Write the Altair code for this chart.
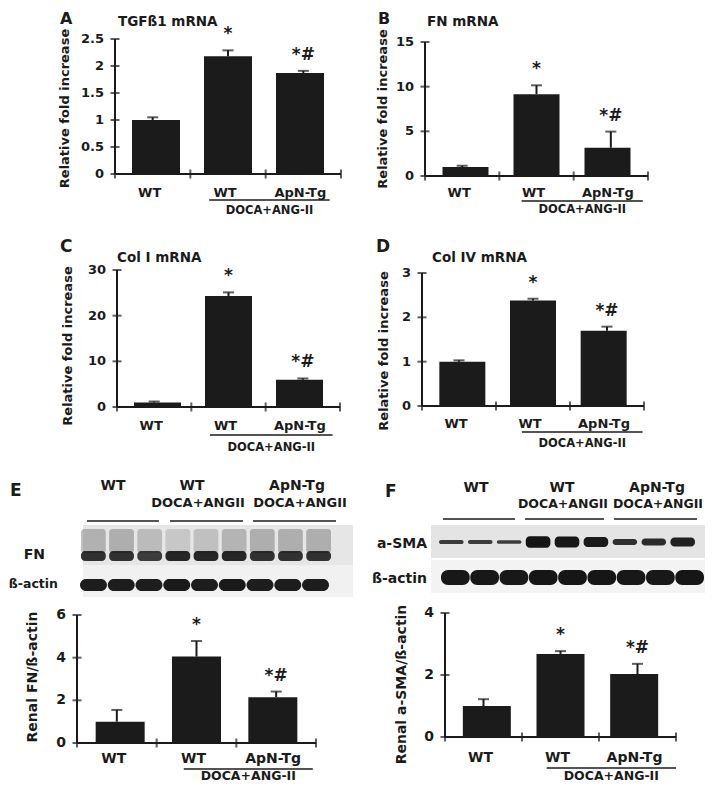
import altair as alt
import pandas as pd

FONT = "DejaVu Sans"
INK = "#1b1b1b"
OFF = 8  # page margin


def P(v):
    return v - OFF


# ---------------- data ----------------
groups = ["WT", "WT", "ApN-Tg"]
sig_marks = ["", "*", "*#"]

tgf_mean = [1.0, 2.18, 1.87]
tgf_err = [0.05, 0.11, 0.04]
fn_mean = [1.0, 9.15, 3.17]
fn_err = [0.15, 1.0, 1.8]
col1_mean = [1.0, 24.3, 5.95]
col1_err = [0.2, 0.8, 0.3]
col4_mean = [1.0, 2.38, 1.70]
col4_err = [0.03, 0.04, 0.09]
fnwb_mean = [1.0, 4.05, 2.15]
fnwb_err = [0.55, 0.73, 0.26]
sma_mean = [1.0, 2.68, 2.03]
sma_err = [0.22, 0.09, 0.33]

lanes = [1, 2, 3, 4, 5, 6, 7, 8, 9]
fn_smear = [0.42, 0.45, 0.35, 0.25, 0.30, 0.40, 0.45, 0.45, 0.45]
fn_band = [0.85, 0.85, 0.80, 0.90, 0.90, 0.90, 0.85, 0.85, 0.85]
e_actin = [0.95, 0.95, 0.95, 0.96, 0.95, 0.96, 0.95, 0.95, 0.95]
sma_band = [0.35, 0.33, 0.30, 0.95, 0.90, 0.85, 0.50, 0.60, 0.75]
f_actin = [0.97, 0.97, 0.97, 0.98, 0.98, 0.98, 0.97, 0.97, 0.98]

ONE = alt.Data(values=[{}])


def label(text, X, Y, size, align="left", baseline="alphabetic", angle=0):
    return alt.Chart(ONE).mark_text(
        text=text, font=FONT, fontSize=size, fontWeight="bold", color=INK,
        align=align, baseline=baseline, angle=angle,
    ).encode(x=alt.value(P(X)), y=alt.value(P(Y)))


def box(X0, X1, Y0, Y1, color):
    return alt.Chart(ONE).mark_rect(color=color).encode(
        x=alt.value(P(X0)), x2=alt.value(P(X1)), y=alt.value(P(Y0)), y2=alt.value(P(Y1))
    )


def hline(X0, X1, Y, w=1.5):
    return alt.Chart(ONE).mark_rule(color=INK, strokeWidth=w).encode(
        x=alt.value(P(X0)), x2=alt.value(P(X1)), y=alt.value(P(Y))
    )


def bar_panel(mean, err, ticks, tick_labels, ymax, X0, X3, Y0, Ytop, bar_size,
              fs, lab_dy, line_dy, doca_dy, u0, u1):
    xs = alt.Scale(domain=[0, 3], range=[P(X0), P(X3)], nice=False, zero=False)
    ys = alt.Scale(domain=[0, ymax], range=[P(Y0), P(Ytop)], nice=False, zero=False)
    df = pd.DataFrame({"pos": [0.5, 1.5, 2.5], "group": groups, "mean": mean,
                       "err": err, "mark": sig_marks})
    df["top"] = df["mean"] + df["err"]
    df["zero"] = 0.0
    X = alt.X("pos:Q", scale=xs, axis=None)
    base = alt.Chart(df)
    bars = base.mark_bar(size=bar_size, color=INK, orient="vertical").encode(
        x=X, y=alt.Y("mean:Q", scale=ys, axis=None, stack=None), y2="zero:Q")
    ebar = base.mark_rule(color=INK, strokeWidth=2).encode(
        x=X, y=alt.Y("mean:Q", scale=ys, axis=None), y2="top:Q")
    cap = base.mark_tick(orient="horizontal", size=11, thickness=2, color=INK).encode(
        x=X, y=alt.Y("top:Q", scale=ys, axis=None))
    stars = base.mark_text(font=FONT, fontSize=17, fontWeight="bold", color=INK,
                           dy=-11, baseline="alphabetic").encode(
        x=X, y=alt.Y("top:Q", scale=ys, axis=None), text="mark:N")
    glab = base.mark_text(font=FONT, fontSize=fs, fontWeight="bold", color=INK,
                          dy=lab_dy, dx=-3, baseline="alphabetic").encode(
        x=X, y=alt.Y("zero:Q", scale=ys, axis=None), text="group:N")

    tdf = pd.DataFrame({"v": ticks, "lab": tick_labels, "x0": 0.0})
    ytick = alt.Chart(tdf).mark_tick(orient="horizontal", size=9, thickness=2, color=INK).encode(
        x=alt.X("x0:Q", scale=xs, axis=None), y=alt.Y("v:Q", scale=ys, axis=None))
    ylab = alt.Chart(tdf).mark_text(font=FONT, fontSize=fs, fontWeight="bold", color=INK,
                                    align="right", baseline="middle", dx=-11).encode(
        x=alt.X("x0:Q", scale=xs, axis=None), y=alt.Y("v:Q", scale=ys, axis=None), text="lab:N")
    xdf = pd.DataFrame({"b": [0.0, 1.0, 2.0, 3.0], "y0": 0.0})
    xtick = alt.Chart(xdf).mark_tick(orient="vertical", size=9, thickness=2, color=INK).encode(
        x=alt.X("b:Q", scale=xs, axis=None), y=alt.Y("y0:Q", scale=ys, axis=None))
    dom = alt.Data(values=[{"x0": 0, "x1": 3, "y0": 0, "y1": ymax,
                            "u0": u0, "u1": u1, "um": (u0 + u1) / 2, "t": "DOCA+ANG-II"}])
    yline = alt.Chart(dom).mark_rule(color=INK, strokeWidth=2).encode(
        x=alt.X("x0:Q", scale=xs, axis=None), y=alt.Y("y0:Q", scale=ys, axis=None), y2="y1:Q")
    xline = alt.Chart(dom).mark_rule(color=INK, strokeWidth=2).encode(
        x=alt.X("x0:Q", scale=xs, axis=None), x2="x1:Q", y=alt.Y("y0:Q", scale=ys, axis=None))
    uline = alt.Chart(dom).mark_rule(color=INK, strokeWidth=1.5, yOffset=line_dy).encode(
        x=alt.X("u0:Q", scale=xs, axis=None), x2="u1:Q", y=alt.Y("y0:Q", scale=ys, axis=None))
    doca = alt.Chart(dom).mark_text(font=FONT, fontSize=fs - 1.5, fontWeight="bold", color=INK,
                                    dy=doca_dy, baseline="alphabetic").encode(
        x=alt.X("um:Q", scale=xs, axis=None), y=alt.Y("y0:Q", scale=ys, axis=None), text="t:N")
    return [bars, ebar, cap, stars, glab, yline, xline, ytick, ylab, xtick, uline, doca]


def lane_rects(values, X0, X1, Yt, Yb, pad, radius, color="#111111", omin=0.0):
    df = pd.DataFrame({"lane": lanes, "v": values})
    return alt.Chart(df).mark_rect(color=color, cornerRadius=radius).encode(
        x=alt.X("lane:O", scale=alt.Scale(domain=lanes, range=[P(X0), P(X1)],
                                          paddingInner=pad, paddingOuter=0), axis=None),
        y=alt.value(P(Yt)), y2=alt.value(P(Yb)),
        opacity=alt.Opacity("v:Q", scale=alt.Scale(domain=[0, 1], range=[omin, 1]), legend=None),
    )


def thick_lanes(values, X0, X1, Yc, half, pad, radius):
    df = pd.DataFrame({"lane": lanes, "v": values})
    df["lo"] = -df["v"] / 2
    df["hi"] = df["v"] / 2
    return alt.Chart(df).mark_rect(color="#111111", cornerRadius=radius).encode(
        x=alt.X("lane:O", scale=alt.Scale(domain=lanes, range=[P(X0), P(X1)],
                                          paddingInner=pad, paddingOuter=0), axis=None),
        y=alt.Y("lo:Q", scale=alt.Scale(domain=[-0.5, 0.5], range=[P(Yc + half), P(Yc - half)],
                                        nice=False, zero=False), axis=None),
        y2="hi:Q",
        opacity=alt.Opacity("v:Q", scale=alt.Scale(domain=[0, 1], range=[0.7, 1]), legend=None),
    )


layers = []

# ---- Panel A ----
layers += bar_panel(tgf_mean, tgf_err, [0, 0.5, 1, 1.5, 2, 2.5], ["0", "0.5", "1", "1.5", "2", "2.5"],
                    2.5, 115, 341, 174, 39, 48, 13, 23, 26, 40, 1.25, 2.85)
layers += [label("A", 60, 24, 16), label("TGFß1 mRNA", 118, 25.5, 13.5),
           label("Relative fold increase", 65, 108.5, 13, align="center", baseline="middle", angle=270)]

# ---- Panel B ----
layers += bar_panel(fn_mean, fn_err, [0, 5, 10, 15], ["0", "5", "10", "15"],
                    15, 425, 648, 176, 42, 46, 13, 21, 25, 37, 1.3, 2.93)
layers += [label("B", 378, 24, 16), label("FN mRNA", 427, 25.5, 13.5),
           label("Relative fold increase", 383, 109, 13, align="center", baseline="middle", angle=270)]

# ---- Panel C ----
layers += bar_panel(col1_mean, col1_err, [0, 10, 20, 30], ["0", "10", "20", "30"],
                    30, 117, 340, 407, 270, 47, 13, 23, 28, 44, 1.25, 2.9)
layers += [label("C", 60, 252, 17), label("Col I mRNA", 117, 262, 13.5),
           label("Relative fold increase", 68, 346, 13, align="center", baseline="middle", angle=270)]

# ---- Panel D ----
layers += bar_panel(col4_mean, col4_err, [0, 1, 2, 3], ["0", "1", "2", "3"],
                    3, 422, 644, 406, 273, 46, 13, 22, 26, 41, 1.35, 2.98)
layers += [label("D", 376, 252, 17), label("Col IV mRNA", 432, 262, 13.5),
           label("Relative fold increase", 384, 351, 13, align="center", baseline="middle", angle=270)]

# ---- Panel E blot ----
layers += [
    box(83, 353, 525, 565, "#e6e6e6"),
    box(83, 353, 565, 597, "#f1f1f1"),
    lane_rects(fn_smear, 81, 331, 529, 553, 0.12, 3, color="#6a6a6a"),
    lane_rects(fn_band, 81, 331, 551, 561, 0.12, 4),
    lane_rects(e_actin, 80, 329, 579, 591, 0.03, 6),
    label("E", 10, 496, 17),
    label("WT", 113, 490, 14, align="center"),
    label("WT", 192, 490, 14, align="center"),
    label("DOCA+ANGII", 198, 507, 13, align="center"),
    label("ApN-Tg", 297, 490, 14, align="center"),
    label("DOCA+ANGII", 300, 507, 13, align="center"),
    hline(87, 159, 521), hline(170, 243, 521), hline(253, 336, 521),
    label("FN", 45, 559, 14, align="right"),
    label("ß-actin", 58, 588, 12.5, align="right"),
]
layers += bar_panel(fnwb_mean, fnwb_err, [0, 2, 4, 6], ["0", "2", "4", "6"],
                    6, 77, 316, 743, 615, 49, 14, 20, 26, 37, 1.34, 2.96)
layers += [label("Renal FN/ß-actin", 33, 677, 14, align="center", baseline="middle", angle=270)]

# ---- Panel F blot ----
layers += [
    box(431, 713, 525, 558, "#e4e4e4"),
    box(431, 713, 560, 593, "#f3f3f3"),
    thick_lanes(sma_band, 439, 695, 542, 6, 0.15, 4),
    lane_rects(f_actin, 441, 704, 570, 585, 0.02, 7),
    label("F", 385, 497, 17),
    label("WT", 476, 492, 14, align="center"),
    label("WT", 562, 492, 14, align="center"),
    label("DOCA+ANGII", 563, 508, 12.5, align="center"),
    label("ApN-Tg", 657, 492, 14, align="center"),
    label("DOCA+ANGII", 658, 508, 12.5, align="center"),
    hline(443, 515, 519), hline(525, 604, 519), hline(614, 697, 519),
    label("a-SMA", 427, 548, 14, align="right"),
    label("ß-actin", 427, 583, 14, align="right"),
]
layers += bar_panel(sma_mean, sma_err, [0, 2, 4], ["0", "2", "4"],
                    4, 445, 676, 737, 613, 48, 14, 25, 31, 43, 1.32, 3.0)
layers += [label("Renal a-SMA/ß-actin", 402, 684.5, 14, align="center", baseline="middle", angle=270)]

chart = alt.layer(*layers).resolve_scale(
    x="independent", y="independent", opacity="independent"
).properties(
    width=697, height=774, autosize=alt.AutoSizeParams(type="none"), padding=0,
    background="white",
).configure_view(stroke=None)

chart.save("out.html", embed_options={"renderer": "svg", "actions": False})
